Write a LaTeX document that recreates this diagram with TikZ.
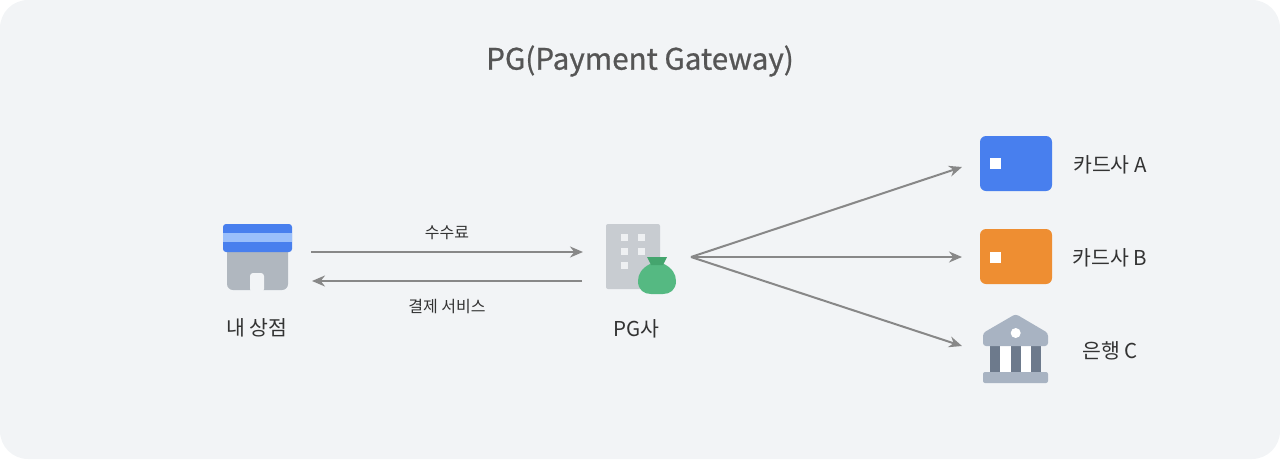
\documentclass[tikz,border=0pt]{standalone}
\usepackage{fontspec}
\setmainfont{Noto Sans CJK KR}
\newfontfamily\titlefont[FakeBold=0.8]{Noto Sans CJK KR}
\usetikzlibrary{arrows.meta, positioning}
\definecolor{PanelGray}{HTML}{F2F4F6}
\definecolor{TitleGray}{HTML}{555555}
\definecolor{LabelDark}{HTML}{333333}
\definecolor{ArrowGray}{HTML}{888888}
\definecolor{CardBlue}{HTML}{487FEE}
\definecolor{CardOrange}{HTML}{EE8E32}
\definecolor{StripeBlue}{HTML}{9ABFFB}
\definecolor{ShopGray}{HTML}{B0B7BF}
\definecolor{TowerGray}{HTML}{C8CCD1}
\definecolor{WindowGray}{HTML}{EEF0F2}
\definecolor{BagGreen}{HTML}{55B982}
\definecolor{NeckGreen}{HTML}{44A56E}
\definecolor{BankGray}{HTML}{A8B3C2}
\definecolor{PillarSlate}{HTML}{6D7A8C}
\tikzset{
    flow/.style={draw=ArrowGray, line width=2pt, -{Stealth[length=13pt, width=11pt]}},
    biglabel/.style={color=LabelDark, font=\fontsize{20.5pt}{24pt}\selectfont},
    smalllabel/.style={color=LabelDark, font=\fontsize{16pt}{19pt}\selectfont},
}
\begin{document}
\begin{tikzpicture}[x=1pt, y=-1pt]
    \useasboundingbox (0, 0) rectangle (1280, 459);
    \fill[PanelGray, rounded corners=28pt] (0, 0) rectangle (1280, 459);
    \node[color=TitleGray, font=\titlefont\fontsize{29.6pt}{34pt}\selectfont] (title) at (640, 61) {PG(Payment Gateway)};

    % My shop
    \fill[ShopGray, rounded corners=6pt] (227, 240) rectangle (288, 290);
    \fill[PanelGray, rounded corners=3pt] (250, 292) -- (250, 273) -- (264, 273) -- (264, 292) -- cycle;
    \fill[CardBlue, rounded corners=3pt] (223, 224) rectangle (292, 252);
    \fill[StripeBlue] (223, 233) rectangle (292, 242);
    \node[biglabel] (shoplabel) at (257, 328) {내 상점};

    % PG company
    \fill[TowerGray, rounded corners=2pt] (606, 224) rectangle (660, 289);
    \foreach \wx/\wy in {621/234, 638/234, 621/248, 638/248, 621/262}
        \fill[WindowGray] (\wx, \wy) rectangle (\wx+7, \wy+7);
    \fill[BagGreen] (650, 264) .. controls (642, 268) and (638, 274) .. (638, 281)
        .. controls (638, 290) and (644, 294) .. (651, 294) -- (663, 294)
        .. controls (670, 294) and (676, 290) .. (676, 281)
        .. controls (676, 274) and (672, 268) .. (664, 264) -- cycle;
    \fill[NeckGreen] (647, 257) -- (667, 257) -- (663, 265) -- (651, 265) -- cycle;
    \node[biglabel] (pglabel) at (636, 329) {PG사};

    % Card companies
    \fill[CardBlue, rounded corners=6pt] (980, 136) rectangle (1052, 191);
    \fill[white] (990, 158) rectangle (1001, 169);
    \node[biglabel] (carda) at (1110, 165) {카드사 A};

    \fill[CardOrange, rounded corners=6pt] (980, 229) rectangle (1052, 284);
    \fill[white] (990, 252) rectangle (1001, 263);
    \node[biglabel] (cardb) at (1110, 258) {카드사 B};

    % Bank
    \fill[white] (990, 346) rectangle (1041, 372);
    \foreach \px in {990, 1011, 1031}
        \fill[PillarSlate] (\px, 346) rectangle (\px+10, 372);
    \fill[BankGray, rounded corners=3pt] (1015.7, 314) -- (1048, 333) -- (1048, 346) -- (983, 346) -- (983, 333) -- cycle;
    \fill[white] (1015.7, 333) circle (5pt);
    \fill[BankGray, rounded corners=2pt] (983, 372) rectangle (1048, 383);
    \node[biglabel] (bankc) at (1110, 351) {은행 C};

    % Arrow ends
    \coordinate (shopout) at (311, 252);
    \coordinate (pgin) at (583, 252);
    \coordinate (pgout) at (582, 281);
    \coordinate (shopin) at (312, 281);
    \coordinate (fan) at (691, 257);
    \coordinate (toa) at (962, 167);
    \coordinate (tob) at (962, 257);
    \coordinate (toc) at (962, 346);

    \draw[flow] (shopout) -- node[smalllabel, above=8pt] (fee) {수수료} (pgin);
    \draw[flow] (pgout) -- node[smalllabel, below=14pt] (service) {결제 서비스} (shopin);
    \draw[flow] (fan) -- (toa);
    \draw[flow] (fan) -- (tob);
    \draw[flow] (fan) -- (toc);
\end{tikzpicture}
\end{document}
